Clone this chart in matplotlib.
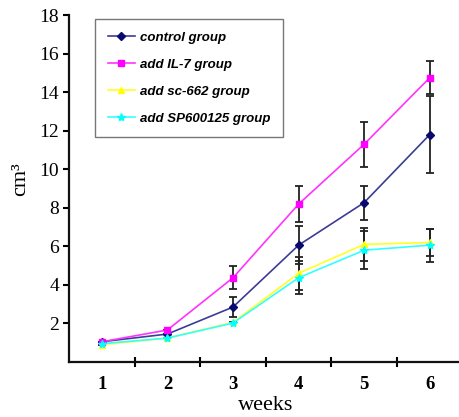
import matplotlib
matplotlib.use("Agg")
import matplotlib.pyplot as plt
from matplotlib.ticker import FixedLocator, NullFormatter

weeks = [1, 2, 3, 4, 5, 6]
week_labels = ["1", "2", "3", "4", "5", "6"]

control = [1.05, 1.45, 2.85, 6.06, 8.27, 11.8]
control_err = [0.0, 0.0, 0.52, 0.97, 0.88, 2.0]
il7 = [1.05, 1.66, 4.37, 8.19, 11.3, 14.75]
il7_err = [0.0, 0.0, 0.6, 0.95, 1.17, 0.85]
sc662 = [0.9, 1.24, 2.05, 4.6, 6.1, 6.2]
sc662_err = [0.0, 0.0, 0.0, 0.85, 0.85, 0.7]
sp600125 = [0.95, 1.24, 2.02, 4.37, 5.8, 6.06]
sp600125_err = [0.0, 0.0, 0.0, 0.85, 1.0, 0.85]

labels = ["control group", "add IL-7 group", "add sc-662 group", "add SP600125 group"]

W, H = 460, 417
fig = plt.figure(figsize=(W / 100, H / 100), dpi=100)
ax = fig.add_axes([69 / W, (H - 362) / H, (462.6 - 69) / W, (362 - 15) / H])

serif = ["Liberation Serif", "DejaVu Serif"]

series = [
    (control, control_err, "#3c3c96", "D", "#0a0a6e", 4.2),
    (il7, il7_err, "#ff33ff", "s", "#ff00ff", 5),
    (sc662, sc662_err, "#ffff22", "^", "#ffff00", 5),
    (sp600125, sp600125_err, "#33ffff", "*", "#00ffff", 6),
]

for vals, errs, col, mk, mcol, ms in series:
    ax.errorbar(weeks, vals, yerr=errs, fmt="none", ecolor="#222222",
                elinewidth=1.3, capsize=2.8, capthick=1.3, zorder=2)

handles = []
for (vals, errs, col, mk, mcol, ms), lab in zip(series, labels):
    h, = ax.plot(weeks, vals, color=col, lw=1.2, marker=mk, ms=ms,
                 mfc=mcol, mec=mcol, label=lab, zorder=3)
    handles.append(h)

ax.set_xlim(0.5, 6.5)
ax.set_ylim(0, 18)
ax.set_yticks([2, 4, 6, 8, 10, 12, 14, 16, 18])
ax.set_xticks(weeks)
ax.set_xticklabels(week_labels)
ax.xaxis.set_minor_locator(FixedLocator([1.5, 2.5, 3.5, 4.5, 5.5]))
ax.xaxis.set_minor_formatter(NullFormatter())
ax.tick_params(axis="x", which="major", length=0, pad=10)
ax.tick_params(axis="x", which="minor", direction="inout", length=7, width=1.5)
ax.tick_params(axis="y", which="major", direction="out", length=4, width=1.5, pad=3)

for lab in ax.get_xticklabels():
    lab.set_family(serif)
    lab.set_fontsize(13.5)
    lab.set_fontweight("bold")
for lab in ax.get_yticklabels():
    lab.set_family(serif)
    lab.set_fontsize(14)

for s in ["top", "right"]:
    ax.spines[s].set_visible(False)
for s in ["left", "bottom"]:
    ax.spines[s].set_linewidth(1.6)
    ax.spines[s].set_color("#111111")

ax.set_xlabel("weeks", family=serif, fontsize=16, labelpad=2)
fig.text(21 / W, 1 - 179 / H, "cm³", family=serif, fontsize=16,
         rotation=90, ha="center", va="center")

leg = ax.legend(handles=handles, loc="upper left",
                bbox_to_anchor=(95 / W, 1 - 19 / H), bbox_transform=fig.transFigure,
                frameon=True, fancybox=False, edgecolor="#555555",
                prop={"family": ["Liberation Sans", "DejaVu Sans"], "style": "italic",
                      "weight": "bold", "size": 9.5},
                handlelength=2.1, handletextpad=0.35, labelspacing=1.12,
                borderpad=0.95, borderaxespad=0)
leg.get_frame().set_linewidth(1.0)

fig.savefig("out.png", dpi=100)
